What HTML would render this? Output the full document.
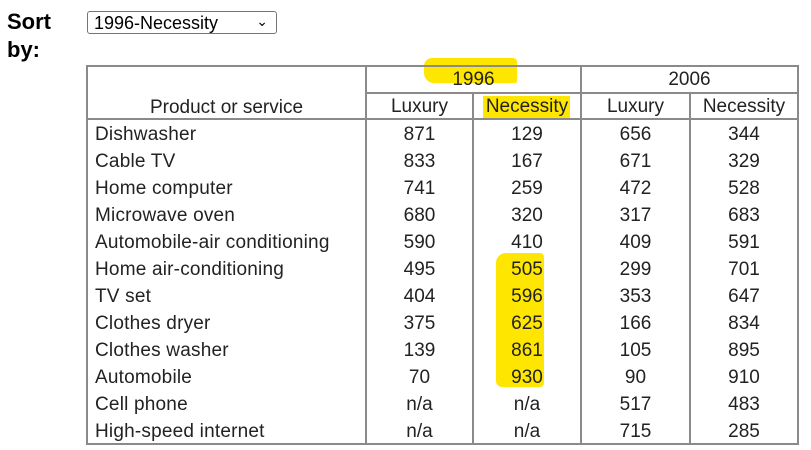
<!DOCTYPE html>
<html><head><meta charset="utf-8"><style>
body{margin:0;width:811px;height:450px;background:#fff;position:relative;overflow:hidden;font-family:"Liberation Sans",sans-serif}
.a{position:absolute}
.t{position:absolute;font-size:19px;color:#222;line-height:27px;white-space:nowrap}
.c{text-align:center}
.hl{position:absolute;background:#ffe600}
.h{position:absolute;background:#8a8a8a}
</style></head><body>
<div class="a" style="left:7px;top:8px;font-weight:bold;font-size:22px;line-height:28px;color:#000">Sort<br>by:</div>
<div class="a" style="left:87px;top:11px;width:190px;height:23px;border:1px solid #767676;border-radius:3px;font-size:18px;line-height:22px;box-sizing:border-box;padding-left:6px;color:#000">1996-Necessity<span style="position:absolute;right:8px;top:-2px;font-size:14px">&#8964;</span></div>
<div class="hl" style="left:424px;top:58px;width:93px;height:25px;border-radius:8px 4px 2px 10px"></div>
<div class="hl" style="left:483px;top:96px;width:87px;height:22px"></div>
<div class="hl" style="left:496px;top:253px;width:48px;height:134px;border-radius:10px 4px 4px 6px"></div>
<div class="h" style="left:86px;top:65px;width:713px;height:2px"></div>
<div class="h" style="left:366px;top:92px;width:433px;height:2px"></div>
<div class="h" style="left:86px;top:118px;width:713px;height:2px"></div>
<div class="h" style="left:86px;top:443px;width:713px;height:2px"></div>
<div class="h" style="left:86px;top:65px;width:2px;height:380px"></div>
<div class="h" style="left:365px;top:65px;width:2px;height:380px"></div>
<div class="h" style="left:472px;top:92px;width:2px;height:353px"></div>
<div class="h" style="left:580px;top:65px;width:2px;height:380px"></div>
<div class="h" style="left:689px;top:92px;width:2px;height:353px"></div>
<div class="h" style="left:797px;top:65px;width:2px;height:380px"></div>
<div class="t c" style="left:366px;top:66px;width:215px">1996</div>
<div class="t c" style="left:581px;top:66px;width:217px">2006</div>
<div class="t c" style="left:87px;top:94px;width:279px">Product or service</div>
<div class="t c" style="left:366px;top:93px;width:107px">Luxury</div>
<div class="t c" style="left:473px;top:93px;width:108px">Necessity</div>
<div class="t c" style="left:581px;top:93px;width:109px">Luxury</div>
<div class="t c" style="left:690px;top:93px;width:108px">Necessity</div>
<div id="rows"></div>
<script>
var d=[["Dishwasher",871,129,656,344],["Cable TV",833,167,671,329],["Home computer",741,259,472,528],["Microwave oven",680,320,317,683],["Automobile-air conditioning",590,410,409,591],["Home air-conditioning",495,505,299,701],["TV set",404,596,353,647],["Clothes dryer",375,625,166,834],["Clothes washer",139,861,105,895],["Automobile",70,930,90,910],["Cell phone","n/a","n/a",517,483],["High-speed internet","n/a","n/a",715,285]];
var xs=[[366,107],[473,108],[581,109],[690,108]],h="";
d.forEach(function(r,i){var y=121+i*27;
h+='<div class="t" style="left:95px;top:'+y+'px;letter-spacing:0.2px">'+r[0]+'</div>';
for(var j=0;j<4;j++)h+='<div class="t c" style="left:'+xs[j][0]+'px;top:'+y+'px;width:'+xs[j][1]+'px">'+r[j+1]+'</div>';});
document.getElementById("rows").innerHTML=h;
</script>
</body></html>
